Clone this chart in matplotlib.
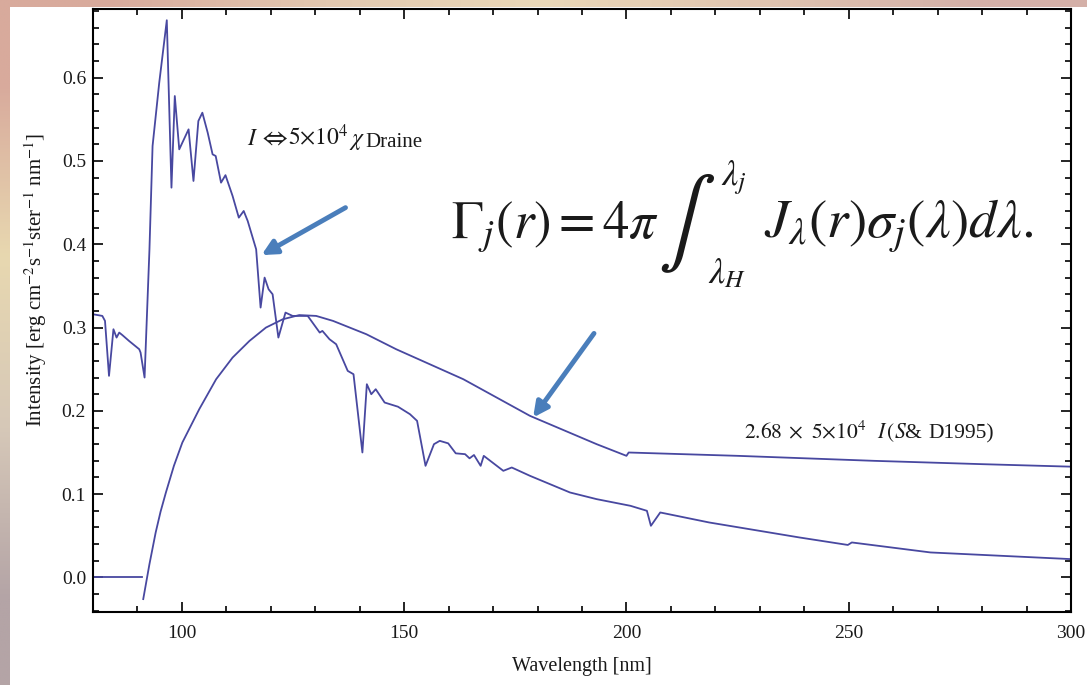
import numpy as np
import matplotlib
matplotlib.use("Agg")
import matplotlib.pyplot as plt
from matplotlib.patches import Rectangle
from matplotlib.ticker import MultipleLocator

# Draine-type spectrum (jagged curve)
draine_x = [80.0, 82.1, 82.7, 83.6, 84.6, 85.3, 85.9, 86.6, 88.1, 90.4, 90.7, 91.6,
            92.7, 93.4, 94.9, 96.6, 97.65, 98.4, 99.4, 101.5, 102.6, 103.7, 104.6,
            105.8, 106.9, 107.6, 108.8, 109.8, 111.4, 112.8, 113.9, 114.8, 116.7,
            117.7, 118.6, 119.5, 120.4, 121.7, 123.3, 124.9, 128.3, 131.0, 131.6,
            133.2, 134.7, 137.3, 138.6, 140.6, 141.6, 142.6, 143.6, 145.6, 148.6,
            151.3, 152.9, 154.8, 156.7, 158.0, 159.9, 161.6, 163.7, 164.7, 165.7,
            167.2, 167.9, 172.3, 174.2, 178.3, 187.3, 193.3, 200.9, 204.6, 205.5,
            207.6, 218.6, 238.9, 249.8, 250.7, 268.4, 300.0]
draine_y = [0.316, 0.314, 0.308, 0.242, 0.298, 0.288, 0.294, 0.291, 0.284, 0.274, 0.270, 0.240,
            0.394, 0.518, 0.594, 0.669, 0.468, 0.578, 0.514, 0.538, 0.476, 0.548, 0.558,
            0.534, 0.508, 0.506, 0.474, 0.483, 0.458, 0.432, 0.440, 0.428, 0.394,
            0.324, 0.360, 0.346, 0.340, 0.288, 0.318, 0.314, 0.314, 0.294, 0.296,
            0.286, 0.280, 0.248, 0.244, 0.150, 0.232, 0.220, 0.226, 0.210, 0.205,
            0.196, 0.188, 0.134, 0.160, 0.164, 0.161, 0.149, 0.148, 0.143, 0.147,
            0.134, 0.146, 0.128, 0.132, 0.122, 0.102, 0.094, 0.086, 0.080, 0.062,
            0.078, 0.066, 0.048, 0.039, 0.042, 0.030, 0.022]

# S&D 1995 (smooth curve), zero below the Lyman limit
sd_flat_x = [80.0, 91.1]
sd_flat_y = [0.0, 0.0]
sd_x = [91.3, 92.7, 94.1, 95.2, 96.4, 98.2, 100.1, 103.9, 107.7, 111.4, 115.2, 118.9,
        122.7, 126.4, 130.2, 134.0, 141.5, 148.2, 163.3, 178.3, 193.3, 200.0,
        200.5, 225.0, 255.7, 280.0, 300.0]
sd_y = [-0.026, 0.016, 0.054, 0.079, 0.102, 0.134, 0.162, 0.202, 0.238, 0.264, 0.284, 0.300,
        0.310, 0.315, 0.314, 0.308, 0.292, 0.274, 0.238, 0.194, 0.160, 0.146,
        0.150, 0.146, 0.140, 0.136, 0.133]

line_color = "#4848a0"
arrow_color = "#4a7ebb"
text_color = "#1a1a1a"

plt.rcParams["font.family"] = ["Liberation Serif", "DejaVu Serif"]
plt.rcParams["mathtext.fontset"] = "stix"

W, H = 1087, 685
fig = plt.figure(figsize=(W / 100, H / 100), dpi=100)


def px(x, y):
    # pixel position (from top-left) -> figure fraction
    return x / W, 1 - y / H


# slide background (gradient border + white panel)
bg = fig.add_axes([0, 0, 1, 1], zorder=-10)
grad = np.array([
    [[216, 170, 156], [226, 200, 176], [234, 216, 184], [224, 196, 176], [212, 176, 168]],
    [[232, 216, 176], [232, 216, 176], [232, 216, 176], [232, 216, 176], [232, 216, 176]],
    [[214, 200, 184], [214, 200, 184], [214, 200, 184], [214, 200, 184], [214, 200, 184]],
    [[180, 164, 166], [180, 164, 166], [180, 164, 166], [180, 164, 166], [180, 164, 166]],
]) / 255.0
bg.imshow(grad, extent=[0, 1, 0, 1], aspect="auto", interpolation="bilinear")
bg.add_patch(Rectangle((10 / W, 0), 1 - 10 / W, (H - 7) / H, facecolor="white",
                       edgecolor="none", transform=bg.transAxes))
bg.set_xlim(0, 1)
bg.set_ylim(0, 1)
bg.axis("off")

ax = fig.add_axes([93 / W, (H - 612) / H, (1071 - 93) / W, (612 - 9) / H])
ax.plot(draine_x, draine_y, color=line_color, lw=1.3)
ax.plot(sd_flat_x, sd_flat_y, color=line_color, lw=1.3)
ax.plot(sd_x, sd_y, color=line_color, lw=1.3)

ax.set_xlim(80, 300)
ax.set_ylim(-0.0415, 0.6825)
ax.xaxis.set_major_locator(MultipleLocator(50))
ax.xaxis.set_minor_locator(MultipleLocator(10))
ax.yaxis.set_major_locator(MultipleLocator(0.1))
ax.yaxis.set_minor_locator(MultipleLocator(0.02))
ax.yaxis.set_major_formatter(plt.FuncFormatter(lambda v, p: f"{v:.1f}"))
ax.tick_params(which="both", direction="in", top=True, right=True,
               width=1.2, colors="black", labelcolor=text_color, labelsize=14)
ax.tick_params(which="major", length=7)
ax.tick_params(which="minor", length=4)
ax.tick_params(axis="x", pad=9)
ax.tick_params(axis="y", pad=5)
for s in ax.spines.values():
    s.set_linewidth(1.5)

ax.set_xlabel("Wavelength [nm]", fontsize=14.5, color=text_color, labelpad=11)
ax.set_ylabel(r"Intensity [erg cm$^{-2}$s$^{-1}$ster$^{-1}$ nm$^{-1}$]",
              fontsize=15, color=text_color)
ax.yaxis.set_label_coords(-0.045, 0.55)

# curve labels
fig.text(*px(247, 145), r"$I$", fontsize=17, color=text_color, ha="left", va="baseline")
fig.text(*px(259, 145), r"$\Leftrightarrow$", fontsize=19, color=text_color,
         ha="left", va="baseline")
fig.text(*px(288, 145), r"$5{\times}10^{4}$", fontsize=17, color=text_color,
         ha="left", va="baseline")
fig.text(*px(349, 145), r"$\chi$", fontsize=17, color=text_color, ha="left", va="baseline")
fig.text(*px(365, 147), "Draine", fontsize=15, color=text_color, ha="left", va="baseline")

fig.text(*px(744, 438), r"$2.68$", fontsize=15.5, color=text_color, ha="left", va="baseline")
fig.text(*px(788, 438), r"$\times$", fontsize=15.5, color=text_color, ha="left", va="baseline")
fig.text(*px(811, 438), r"$5{\times}10^{4}$", fontsize=15.5, color=text_color,
         ha="left", va="baseline")
fig.text(*px(877, 438), r"$I\,(S$&", fontsize=15.5, color=text_color,
         ha="left", va="baseline")
fig.text(*px(928, 438), "D1995)", fontsize=15.5, color=text_color, ha="left", va="baseline")

# photo-rate equation
fig.text(*px(659, 238), r"$\Gamma_j(r) = 4\pi$", fontsize=38, color=text_color,
         ha="right", va="baseline")
fig.text(*px(686, 224), r"$\int$", fontsize=62, color=text_color,
         ha="center", va="center")
fig.text(*px(721, 185), r"$\lambda_j$", fontsize=26, color=text_color,
         ha="left", va="baseline")
fig.text(*px(708, 283), r"$\lambda_H$", fontsize=26, color=text_color,
         ha="left", va="baseline")
fig.text(*px(764, 238), r"$J_\lambda(r)\sigma_j(\lambda)d\lambda.$", fontsize=39.5,
         color=text_color, ha="left", va="baseline")

ax.annotate("", xy=(117.9, 0.387), xytext=(136.8, 0.444),
            arrowprops=dict(arrowstyle="-|>", color=arrow_color, lw=3.5, mutation_scale=22,
                            shrinkA=0, shrinkB=0))
ax.annotate("", xy=(179.0, 0.192), xytext=(192.7, 0.293),
            arrowprops=dict(arrowstyle="-|>", color=arrow_color, lw=3.5, mutation_scale=22,
                            shrinkA=0, shrinkB=0))

fig.savefig("out.png", dpi=100)
